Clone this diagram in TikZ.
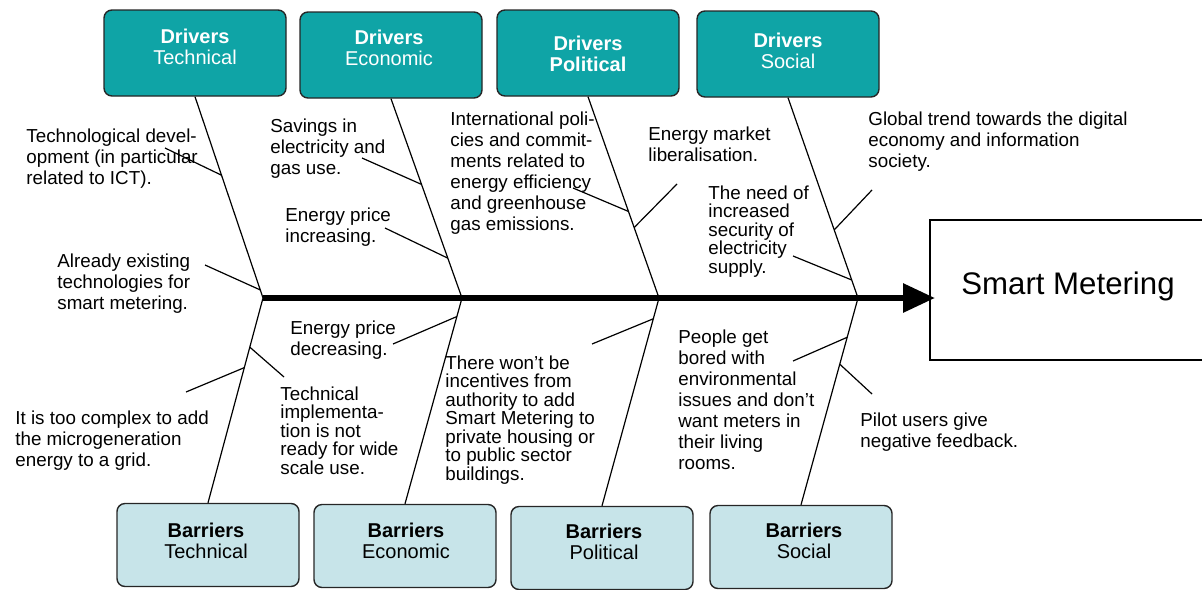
\documentclass[tikz,border=0pt]{standalone}
\usepackage{fontspec}
\setmainfont{Liberation Sans}
\usetikzlibrary{arrows.meta,calc}

\definecolor{drvteal}{HTML}{0FA4A6}
\definecolor{barblue}{HTML}{C7E4E9}

\tikzset{
    driver/.style={draw=black!85, fill=drvteal, rounded corners=4pt, line width=0.7pt,
        minimum width=91pt, minimum height=43pt, inner sep=0pt},
    barrier/.style={draw=black!85, fill=barblue, rounded corners=4pt, line width=0.7pt,
        minimum width=91pt, minimum height=41.5pt, inner sep=0pt},
    boxtext/.style={inner sep=0pt, align=center, font=\fontsize{10}{10.5}\selectfont},
    note/.style={anchor=north west, inner sep=0pt, align=left, font=\fontsize{9.4}{10.5}\selectfont},
    tightnote/.style={note, font=\fontsize{9.4}{9.25}\selectfont},
    bone/.style={line width=0.6pt},
    twig/.style={line width=0.6pt},
}

\begin{document}
\begin{tikzpicture}[x=0.5pt, y=-0.5pt]
    \useasboundingbox (0,0) rectangle (1202,589);
    \clip (0,0) rectangle (1202,589);

    % drivers and barriers
    \node[driver] (dtech) at (195,53) {};
    \node[driver] (decon) at (391,55) {};
    \node[driver] (dpol) at (588,53) {};
    \node[driver] (dsoc) at (788,54) {};
    \node[boxtext, text=white] (dtechtxt) at (195,46.5) {\textbf{Drivers}\\Technical};
    \node[boxtext, text=white] (decontxt) at (389,48) {\textbf{Drivers}\\Economic};
    \node[boxtext, text=white] (dpoltxt) at (588,54) {\textbf{Drivers}\\\textbf{Political}};
    \node[boxtext, text=white] (dsoctxt) at (788,50.5) {\textbf{Drivers}\\Social};

    \node[barrier] (btech) at (208,545) {};
    \node[barrier] (becon) at (405,546) {};
    \node[barrier] (bpol) at (602,548) {};
    \node[barrier] (bsoc) at (801,547) {};
    \node[boxtext] (btechtxt) at (206,540.5) {\textbf{Barriers}\\Technical};
    \node[boxtext] (becontxt) at (406,541) {\textbf{Barriers}\\Economic};
    \node[boxtext] (bpoltxt) at (604,542) {\textbf{Barriers}\\Political};
    \node[boxtext] (bsoctxt) at (804,541) {\textbf{Barriers}\\Social};

    \node[draw, line width=0.8pt, inner sep=0pt, minimum width=138pt, minimum height=70pt] (smart) at (1068,290) {};
    \node[inner sep=0pt, font=\fontsize{15.6}{18}\selectfont] (smarttxt) at (1068,286) {Smart Metering};

    % spine
    \coordinate (s1) at (263,298);
    \coordinate (s2) at (462,298);
    \coordinate (s3) at (659,298);
    \coordinate (s4) at (858,298);
    \coordinate (tip) at (935,298);
    \draw[line width=3pt, -{Triangle[length=16pt,width=14pt]}] (s1) -- (tip);

    \draw[bone] (dtech.south) -- (s1) -- (btech.north);
    \draw[bone] (decon.south) -- (s2) -- (becon.north);
    \draw[bone] (dpol.south) -- (s3) -- (bpol.north);
    \draw[bone] (dsoc.south) -- (s4) -- (bsoc.north);

    % causes
    \node[note] (techdev) at (26,128) {Technological devel-\\opment (in particular\\related to ICT).};
    \node[note] (existing) at (57,253) {Already existing\\technologies for\\smart metering.};
    \node[note] (savings) at (270,118) {Savings in\\electricity and\\gas use.};
    \node[note] (priceup) at (285,207) {Energy price\\increasing.};
    \node[note] (intpol) at (450,111) {International poli-\\cies and commit-\\ments related to\\energy efficiency\\and greenhouse\\gas emissions.};
    \node[note] (market) at (648,126) {Energy market\\liberalisation.};
    \node[tightnote] (security) at (708,185) {The need of\\increased\\security of\\electricity\\supply.};
    \node[note] (digital) at (868,111) {Global trend towards the digital\\economy and information\\society.};

    \node[note] (pricedown) at (290,320) {Energy price\\decreasing.};
    \node[note] (complex) at (15,410) {It is too complex to add\\the microgeneration\\energy to a grid.};
    \node[tightnote] (impl) at (280,386) {Technical\\implementa-\\tion is not\\ready for wide\\scale use.};
    \node[tightnote] (incentives) at (445,355) {There won't be\\incentives from\\authority to add\\Smart Metering to\\private housing or\\to public sector\\buildings.};
    \node[note] (bored) at (678,329) {People get\\bored with\\environmental\\issues and don't\\want meters in\\their living\\rooms.};
    \node[note] (pilot) at (860,412) {Pilot users give\\negative feedback.};

    % twigs
    \coordinate (w1) at (165,148);
    \coordinate (w2) at (205,265);
    \coordinate (w3) at (362,158);
    \coordinate (w4) at (385,228);
    \coordinate (w5) at (573,188);
    \coordinate (w6) at (677,184);
    \coordinate (w7) at (793,256);
    \coordinate (w8) at (872,190);
    \coordinate (w9) at (186,392);
    \coordinate (w10) at (284,377);
    \coordinate (w11) at (393,344);
    \coordinate (w12) at (592,344);
    \coordinate (w13) at (793,361);
    \coordinate (w14) at (872,394);

    \draw[twig] (w1) -- ($(dtech.south)!0.39!(s1)$);
    \draw[twig] (w2) -- ($(dtech.south)!0.96!(s1)$);
    \draw[twig] (w3) -- ($(decon.south)!0.43!(s2)$);
    \draw[twig] (w4) -- ($(decon.south)!0.80!(s2)$);
    \draw[twig] (w5) -- ($(dpol.south)!0.57!(s3)$);
    \draw[twig] (w6) -- ($(dpol.south)!0.65!(s3)$);
    \draw[twig] (w7) -- ($(dsoc.south)!0.91!(s4)$);
    \draw[twig] (w8) -- ($(dsoc.south)!0.66!(s4)$);
    \draw[twig] (w9) -- ($(s1)!0.34!(btech.north)$);
    \draw[twig] (w10) -- ($(s1)!0.24!(btech.north)$);
    \draw[twig] (w11) -- ($(s2)!0.09!(becon.north)$);
    \draw[twig] (w12) -- ($(s3)!0.10!(bpol.north)$);
    \draw[twig] (w13) -- ($(s4)!0.19!(bsoc.north)$);
    \draw[twig] (w14) -- ($(s4)!0.32!(bsoc.north)$);
\end{tikzpicture}
\end{document}
